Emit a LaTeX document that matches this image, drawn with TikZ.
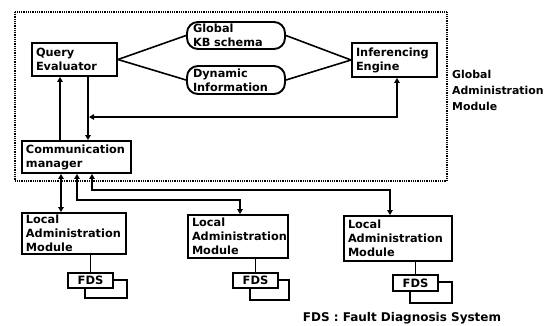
\documentclass[tikz,border=0pt]{standalone}
\usepackage{fontspec}
\setmainfont{DejaVu Sans}
\usetikzlibrary{arrows.meta,calc}
\begin{document}
\begin{tikzpicture}[x=1pt,y=-1pt,
  font=\fontsize{11.3}{14}\selectfont\bfseries,
  box/.style={draw,line width=1.9pt,align=left,inner xsep=4pt,inner ysep=1pt,fill=white,anchor=center},
  rbox/.style={box,rounded corners=11pt,inner xsep=6pt},
  conn/.style={line width=1.6pt},
  tipone/.style={conn,-{Triangle[length=5pt,width=5.5pt]}},
  tiptwo/.style={conn,{Triangle[length=5pt,width=5.5pt]}-{Triangle[length=5pt,width=5.5pt]}},
  shadowbox/.style={draw,line width=1.8pt},
  fdsbox/.style={draw,line width=1.8pt,fill=white,inner sep=0pt,font=\fontsize{11.5}{13}\selectfont\bfseries}
]
\useasboundingbox (0,0) rectangle (558,325);

% global administration module frame
\draw[line width=1.3pt,dash pattern=on 1pt off 0.8pt] (15,12) rectangle (447,181);
\node[anchor=west,align=left,inner sep=0pt,font=\fontsize{10.9}{16}\selectfont\bfseries] (gam) at (452,90) {Global\\Administration\\Module};

% upper nodes
\node[box,minimum width=85pt,minimum height=33pt,text width=77pt] (qe) at (74.5,59.5) {Query\\Evaluator};
\node[rbox,minimum width=98pt,minimum height=27pt,text width=86pt] (kb) at (236,35.5) {Global\\KB schema};
\node[rbox,minimum width=98pt,minimum height=28pt,text width=86pt] (dyn) at (236,80) {Dynamic\\Information};
\node[box,minimum width=85pt,minimum height=34pt,text width=77pt] (ie) at (394.5,60) {Inferencing\\Engine};
\node[box,minimum width=109pt,minimum height=32pt,text width=101pt] (cm) at (76.5,157) {Communication\\manager};

% local modules
\node[box,minimum width=104pt,minimum height=41pt,text width=96pt] (lam1) at (74,233.5) {Local\\Administration\\Module};
\node[box,minimum width=100pt,minimum height=43pt,text width=92pt] (lam2) at (238,236.5) {Local\\Administration\\Module};
\node[box,minimum width=108pt,minimum height=45pt,text width=100pt] (lam3) at (398,238.5) {Local\\Administration\\Module};

% FDS with stacked box behind
\node[shadowbox,minimum width=42pt,minimum height=18pt] (sh1) at (106,289) {};
\node[fdsbox,minimum width=45pt,minimum height=15pt] (fds1) at (90.5,280.5) {FDS};
\node[shadowbox,minimum width=39pt,minimum height=20pt] (sh2) at (269.5,290) {};
\node[fdsbox,minimum width=45pt,minimum height=15pt] (fds2) at (255.5,280.5) {FDS};
\node[shadowbox,minimum width=42pt,minimum height=21pt] (sh3) at (431,292.5) {};
\node[fdsbox,minimum width=45pt,minimum height=16pt] (fds3) at (415.5,283) {FDS};

\node[font=\fontsize{12}{14}\selectfont\bfseries,inner sep=0pt] (cap) at (402,318) {FDS : Fault Diagnosis System};

% coordinates for connector routing
\coordinate (xa) at (60,0);
\coordinate (xb) at (88,0);
\coordinate (fbL) at (89,117);
\coordinate (fbR) at (397,117);
\coordinate (xc) at (61,0);
\coordinate (a2) at (77,200);
\coordinate (b2) at (240,200);
\coordinate (a3) at (92,190);
\coordinate (b3) at (390,190);

% links to knowledge boxes
\draw[conn] (qe.east) -- (kb.west);
\draw[conn] (qe.east) -- (dyn.west);
\draw[conn] (ie.west) -- (kb.east);
\draw[conn] (ie.west) -- (dyn.east);

% query evaluator <-> communication manager
\draw[tipone] (qe.south -| xb) -- (cm.north -| xb);
\draw[tipone] (cm.north -| xa) -- (qe.south -| xa);
\draw[tiptwo] (fbL) -- (fbR) -- (fbR |- ie.south);

% communication manager <-> local modules
\draw[tiptwo] (cm.south -| xc) -- (lam1.north -| xc);
\draw[tiptwo] (cm.south -| a2) -- (a2) -- (b2) -- (lam2.north -| b2);
\draw[tiptwo] (cm.south -| a3) -- (a3) -- (b3) -- (lam3.north -| b3);

% local modules to FDS
\draw[conn] (lam1.south -| fds1.north) -- (fds1.north);
\draw[conn] (lam2.south -| fds2.north) -- (fds2.north);
\draw[conn] (lam3.south -| fds3.north) -- (fds3.north);
\end{tikzpicture}
\end{document}
